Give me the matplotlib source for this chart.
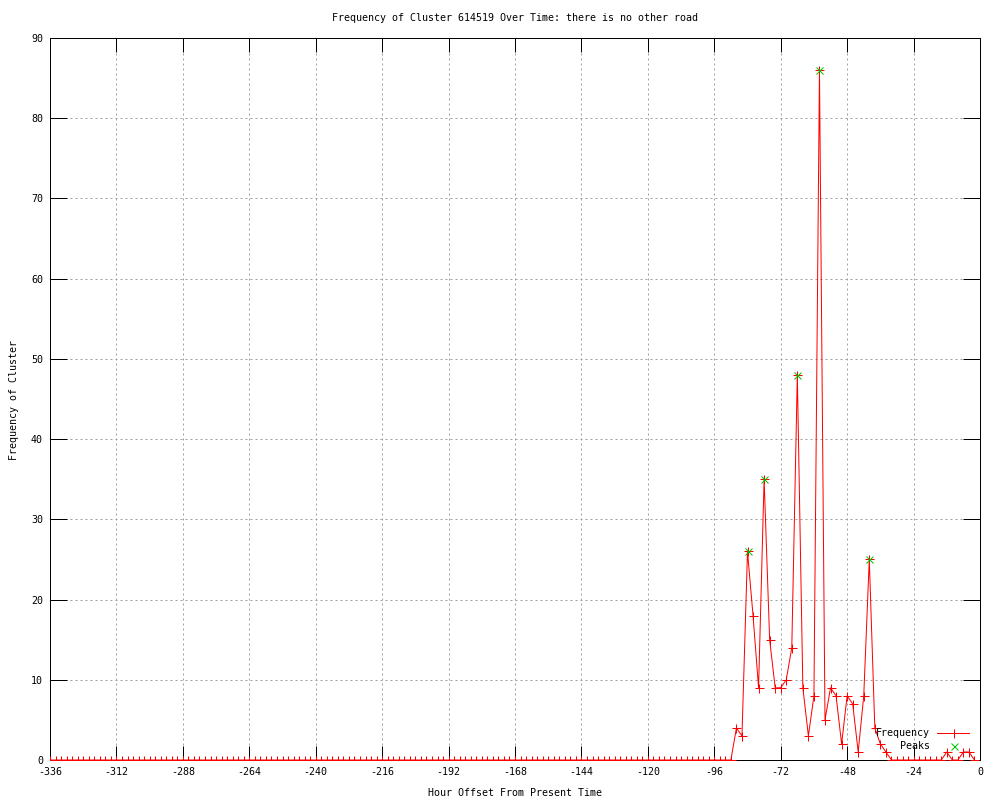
import matplotlib
matplotlib.use("Agg")
import matplotlib.pyplot as plt
from matplotlib.lines import Line2D

# ---- data ----
hours = list(range(-336, 0, 2))
freq = [
    0, 0, 0, 0, 0, 0, 0, 0, 0, 0, 0, 0, 0, 0, 0, 0, 0, 0, 0, 0,
    0, 0, 0, 0, 0, 0, 0, 0, 0, 0, 0, 0, 0, 0, 0, 0, 0, 0, 0, 0,
    0, 0, 0, 0, 0, 0, 0, 0, 0, 0, 0, 0, 0, 0, 0, 0, 0, 0, 0, 0,
    0, 0, 0, 0, 0, 0, 0, 0, 0, 0, 0, 0, 0, 0, 0, 0, 0, 0, 0, 0,
    0, 0, 0, 0, 0, 0, 0, 0, 0, 0, 0, 0, 0, 0, 0, 0, 0, 0, 0, 0,
    0, 0, 0, 0, 0, 0, 0, 0, 0, 0, 0, 0, 0, 0, 0, 0, 0, 0, 0, 0,
    0, 0, 0, 0,
    4, 3, 26, 18, 9, 35, 15, 9, 9, 10, 14, 48, 9, 3, 8, 86, 5, 9, 8, 2,
    8, 7, 1, 8, 25, 4, 2, 1,
    0, 0, 0, 0, 0, 0, 0, 0, 0, 0, 1, 0, 0, 1, 1, 0,
]
peak_hours = [-84, -78, -66, -58, -40]
peak_values = [26, 35, 48, 86, 25]
x_ticks = list(range(-336, 1, 24))
y_ticks = list(range(0, 91, 10))

title = "Frequency of Cluster 614519 Over Time: there is no other road"
xlabel = "Hour Offset From Present Time"
ylabel = "Frequency of Cluster"

# ---- style ----
plt.rcParams["font.family"] = ["DejaVu Sans Mono"]
plt.rcParams["font.size"] = 7.2
plt.rcParams["lines.scale_dashes"] = False
px = 72.0 / 100.0

fig = plt.figure(figsize=(10, 8), dpi=100)
ax = fig.add_axes([0.05, 0.05, 0.93, 0.9025])

red = "#ff0000"
green = "#00c000"

ax.plot(hours, freq, color=red, lw=px, marker="+", ms=9 * px, mew=px, zorder=3)
ax.plot(peak_hours, peak_values, ls="none", color=green, marker="x",
        ms=7 * px, mew=px, zorder=4)

ax.set_xlim(-336, 0)
ax.set_ylim(0, 90)
ax.set_xticks(x_ticks)
ax.set_yticks(y_ticks)
ax.set_xticklabels([str(t) for t in x_ticks])
ax.grid(True, color="#a0a0a0", lw=px, linestyle=(0, (2 * px, 3 * px)))
ax.set_axisbelow(True)
ax.tick_params(direction="in", top=True, right=True, width=px, color="black",
               pad=5)
ax.tick_params(axis="x", length=10)
ax.tick_params(axis="y", length=12)
for s in ax.spines.values():
    s.set_linewidth(px)
    s.set_color("black")

fig.text(0.515, 1 - 18 / 800, title, ha="center", va="center")
fig.text(0.515, 1 - 793 / 800, xlabel, ha="center", va="center")
fig.text(14 / 1000, 0.5, ylabel, ha="center", va="center", rotation=90)

# legend (gnuplot style, right-justified text then sample)
ax.text(0.946, 0.0374, "Frequency", ha="right", va="center", transform=ax.transAxes)
ax.text(0.946, 0.0194, "Peaks", ha="right", va="center", transform=ax.transAxes)
ax.add_line(Line2D([0.954, 0.988], [0.0374, 0.0374], color=red, lw=px,
                   transform=ax.transAxes))
ax.add_line(Line2D([0.972], [0.0374], color=red, marker="+", ms=9 * px, mew=px,
                   transform=ax.transAxes))
ax.add_line(Line2D([0.972], [0.0194], color=green, marker="x", ms=7 * px, mew=px,
                   transform=ax.transAxes))

fig.savefig("out.png", dpi=100)
